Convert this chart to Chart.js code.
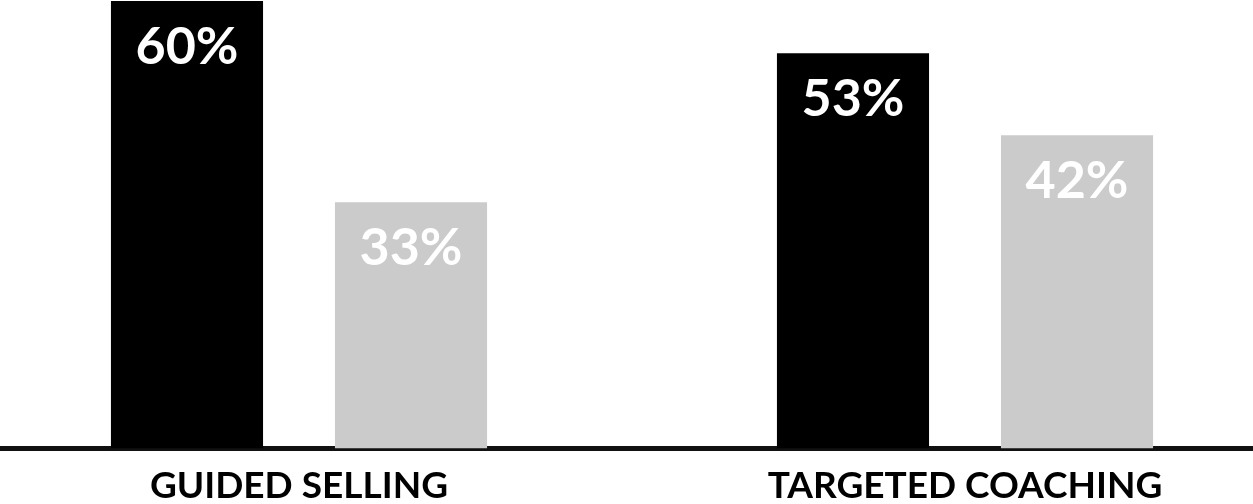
<!DOCTYPE html>
<html>
<head>
<meta charset="utf-8">
<script src="https://cdn.jsdelivr.net/npm/chart.js@4"></script>
<style>
  html, body { margin: 0; padding: 0; background: #fff; }
  #frame { position: relative; width: 1253px; height: 504px; overflow: hidden; }
  #wrap { position: absolute; left: -34px; top: 0; width: 1332px; height: 524px; }
</style>
</head>
<body>
<div id="frame">
  <div id="wrap"><canvas id="salesChart"></canvas></div>
</div>
<script>
const categories = ['GUIDED SELLING', 'TARGETED COACHING'];
const primaryValues = [60, 53];
const secondaryValues = [33, 42];

// writes "NN%" in white just under the top of each bar
const barValueLabels = {
  id: 'barValueLabels',
  afterDatasetsDraw(chart) {
    const ctx = chart.ctx;
    ctx.save();
    ctx.fillStyle = '#ffffff';
    ctx.textAlign = 'center';
    ctx.textBaseline = 'alphabetic';
    ctx.font = 'bold 52px Lato';
    chart.data.datasets.forEach((ds, i) => {
      chart.getDatasetMeta(i).data.forEach((bar, j) => {
        ctx.fillText(`${ds.data[j]}%`, bar.x, bar.y + 63);
      });
    });
    ctx.restore();
  }
};

new Chart(document.getElementById('salesChart'), {
  type: 'bar',
  data: {
    labels: categories,
    datasets: [
      {
        data: primaryValues,
        backgroundColor: '#000000',
        categoryPercentage: 0.6727,
        barPercentage: 0.679
      },
      {
        data: secondaryValues,
        backgroundColor: '#cbcbcb',
        categoryPercentage: 0.6727,
        barPercentage: 0.679
      }
    ]
  },
  options: {
    responsive: true,
    maintainAspectRatio: false,
    animation: false,
    layout: { padding: { top: 1, left: 0, right: 0, bottom: 0 } },
    plugins: {
      legend: { display: false },
      tooltip: { enabled: false }
    },
    scales: {
      x: {
        grid: { display: false, drawTicks: false },
        border: { display: true, color: '#111111', width: 5 },
        ticks: {
          color: '#000000',
          padding: 15.6,
          font: { family: 'Lato', weight: 'bold', size: 37 }
        }
      },
      y: {
        display: false,
        min: 0,
        max: 60
      }
    }
  },
  plugins: [barValueLabels]
});
</script>
</body>
</html>
